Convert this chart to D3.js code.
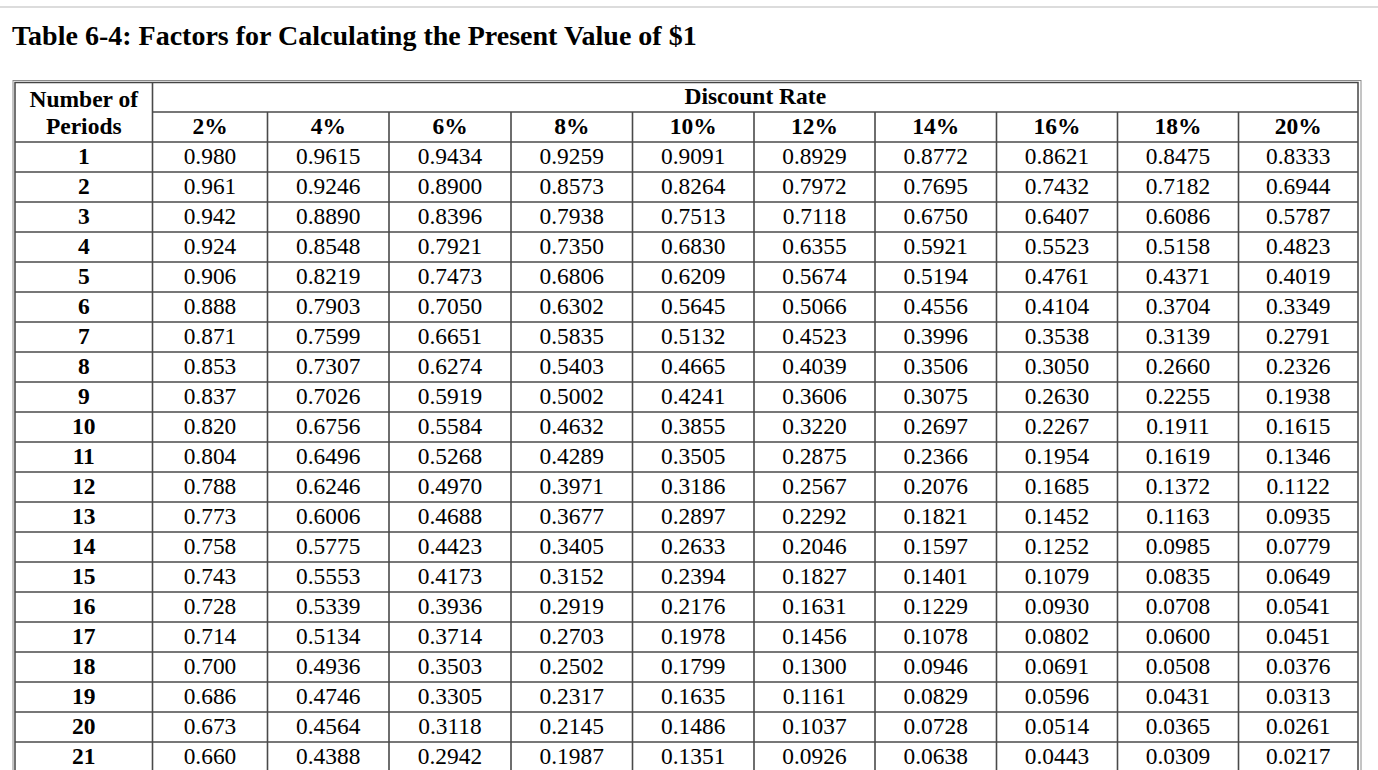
<!DOCTYPE html>
<html>
<head>
<meta charset="utf-8">
<script src="https://cdn.jsdelivr.net/npm/d3@7"></script>
<style>
  html, body { margin: 0; padding: 0; background: #fff; overflow: hidden; }
  svg { display: block; }
  text { font-family: "Liberation Serif", "Times New Roman", serif; fill: #000; }
</style>
</head>
<body>
<svg id="chart" width="1378" height="770"></svg>
<script>
// ---------- data ----------
const title = "Table 6-4: Factors for Calculating the Present Value of $1";
const rowHeaderLines = ["Number of", "Periods"];
const groupHeader = "Discount Rate";
const rates = ["2%", "4%", "6%", "8%", "10%", "12%", "14%", "16%", "18%", "20%"];
const periods = ["1","2","3","4","5","6","7","8","9","10","11","12","13","14","15","16","17","18","19","20","21"];

const r02 = ["0.980","0.961","0.942","0.924","0.906","0.888","0.871","0.853","0.837","0.820","0.804","0.788","0.773","0.758","0.743","0.728","0.714","0.700","0.686","0.673","0.660"];
const r04 = ["0.9615","0.9246","0.8890","0.8548","0.8219","0.7903","0.7599","0.7307","0.7026","0.6756","0.6496","0.6246","0.6006","0.5775","0.5553","0.5339","0.5134","0.4936","0.4746","0.4564","0.4388"];
const r06 = ["0.9434","0.8900","0.8396","0.7921","0.7473","0.7050","0.6651","0.6274","0.5919","0.5584","0.5268","0.4970","0.4688","0.4423","0.4173","0.3936","0.3714","0.3503","0.3305","0.3118","0.2942"];
const r08 = ["0.9259","0.8573","0.7938","0.7350","0.6806","0.6302","0.5835","0.5403","0.5002","0.4632","0.4289","0.3971","0.3677","0.3405","0.3152","0.2919","0.2703","0.2502","0.2317","0.2145","0.1987"];
const r10 = ["0.9091","0.8264","0.7513","0.6830","0.6209","0.5645","0.5132","0.4665","0.4241","0.3855","0.3505","0.3186","0.2897","0.2633","0.2394","0.2176","0.1978","0.1799","0.1635","0.1486","0.1351"];
const r12 = ["0.8929","0.7972","0.7118","0.6355","0.5674","0.5066","0.4523","0.4039","0.3606","0.3220","0.2875","0.2567","0.2292","0.2046","0.1827","0.1631","0.1456","0.1300","0.1161","0.1037","0.0926"];
const r14 = ["0.8772","0.7695","0.6750","0.5921","0.5194","0.4556","0.3996","0.3506","0.3075","0.2697","0.2366","0.2076","0.1821","0.1597","0.1401","0.1229","0.1078","0.0946","0.0829","0.0728","0.0638"];
const r16 = ["0.8621","0.7432","0.6407","0.5523","0.4761","0.4104","0.3538","0.3050","0.2630","0.2267","0.1954","0.1685","0.1452","0.1252","0.1079","0.0930","0.0802","0.0691","0.0596","0.0514","0.0443"];
const r18 = ["0.8475","0.7182","0.6086","0.5158","0.4371","0.3704","0.3139","0.2660","0.2255","0.1911","0.1619","0.1372","0.1163","0.0985","0.0835","0.0708","0.0600","0.0508","0.0431","0.0365","0.0309"];
const r20 = ["0.8333","0.6944","0.5787","0.4823","0.4019","0.3349","0.2791","0.2326","0.1938","0.1615","0.1346","0.1122","0.0935","0.0779","0.0649","0.0541","0.0451","0.0376","0.0313","0.0261","0.0217"];
const factorColumns = [r02, r04, r06, r08, r10, r12, r14, r16, r18, r20];

// ---------- layout ----------
const colEdgesPx = [15, 152.5, 267.5, 389, 511, 632.5, 754, 875, 996.5, 1117.5, 1238.5, 1358];
const colKeys = ["period"].concat(rates);
const xLeft = d3.scaleOrdinal().domain(colKeys).range(colEdgesPx.slice(0, -1));
const xRight = d3.scaleOrdinal().domain(colKeys).range(colEdgesPx.slice(1));
const xMid = k => (xLeft(k) + xRight(k)) / 2;

const tableTop = 82.5, headRow1 = 112, headRow2 = 142, rowH = 30;
const y = d3.scaleLinear().domain([0, 1]).range([headRow2, headRow2 + rowH]); // row index -> top
const tableBottom = y(periods.length);
const tableRight = colEdgesPx[colEdgesPx.length - 1];

const svg = d3.select("#chart");

// top grey rule
svg.append("rect").attr("x", 0).attr("y", 6).attr("width", 1378).attr("height", 2).attr("fill", "#dcdcdc");

// title
svg.append("text").attr("x", 12).attr("y", 45)
  .style("font-size", "28px").style("font-weight", "bold").text(title);

// outer table border (double)
const gB = svg.append("g");
gB.append("rect").attr("x", 13).attr("y", 80.5).attr("width", 1361 - 13).attr("height", tableBottom + 40)
  .attr("fill", "none").attr("stroke", "#8a8a8a").attr("stroke-width", 1);
gB.append("rect").attr("x", colEdgesPx[0]).attr("y", tableTop).attr("width", tableRight - colEdgesPx[0]).attr("height", tableBottom + 40)
  .attr("fill", "none").attr("stroke", "#444").attr("stroke-width", 1.5);

const lineColor = "#4a4a4a", lineW = 1.6;
// vertical lines between columns
const vLines = colKeys.slice(1);
gB.selectAll("line.v").data(vLines).enter().append("line")
  .attr("x1", d => xLeft(d)).attr("x2", d => xLeft(d))
  .attr("y1", (d, i) => i === 0 ? tableTop : headRow1)
  .attr("y2", tableBottom + 40)
  .attr("stroke", lineColor).attr("stroke-width", lineW);

// horizontal lines
gB.append("line").attr("x1", xLeft(rates[0])).attr("x2", tableRight).attr("y1", headRow1).attr("y2", headRow1)
  .attr("stroke", lineColor).attr("stroke-width", lineW);
gB.selectAll("line.h").data(d3.range(0, periods.length + 1)).enter().append("line")
  .attr("x1", colEdgesPx[0]).attr("x2", tableRight)
  .attr("y1", d => y(d)).attr("y2", d => y(d))
  .attr("stroke", lineColor).attr("stroke-width", lineW);

// headers
const fsHead = "23.5px", fsData = "23.4px";
svg.selectAll("text.rh").data(rowHeaderLines).enter().append("text")
  .attr("x", xMid("period")).attr("y", (d, i) => 107 + i * 26.5)
  .attr("text-anchor", "middle").style("font-size", fsHead).style("font-weight", "bold").text(d => d);

svg.append("text").attr("x", (xLeft(rates[0]) + tableRight) / 2).attr("y", 104)
  .attr("text-anchor", "middle").style("font-size", fsHead).style("font-weight", "bold").text(groupHeader);

svg.selectAll("text.rate").data(rates).enter().append("text")
  .attr("x", d => xMid(d)).attr("y", 133.5)
  .attr("text-anchor", "middle").style("font-size", fsHead).style("font-weight", "bold").text(d => d);

// period labels
svg.selectAll("text.per").data(periods).enter().append("text")
  .attr("x", xMid("period")).attr("y", (d, i) => y(i) + 22)
  .attr("text-anchor", "middle").style("font-size", fsHead).style("font-weight", "bold").text(d => d);

// factor cells
const cells = [];
factorColumns.forEach((col, c) => col.forEach((v, r) => cells.push({ rate: rates[c], r, v })));
svg.selectAll("text.cell").data(cells).enter().append("text")
  .attr("x", d => xMid(d.rate)).attr("y", d => y(d.r) + 22)
  .attr("text-anchor", "middle").style("font-size", fsData).text(d => d.v);
</script>
</body>
</html>
